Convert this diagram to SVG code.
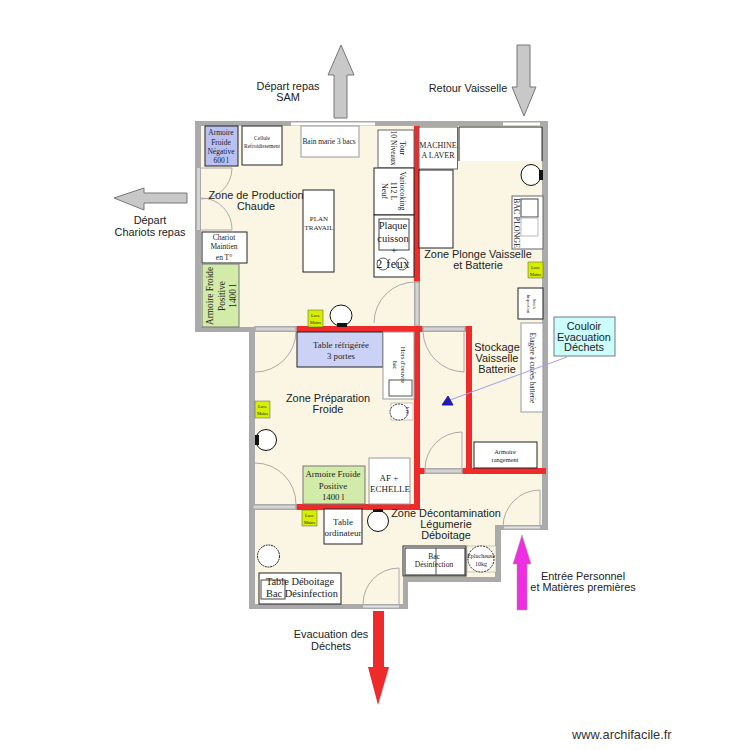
<svg xmlns="http://www.w3.org/2000/svg" width="750" height="750" viewBox="0 0 750 750">
<defs><style>
.sans{font-family:"Liberation Sans",Arial,sans-serif;fill:#222;font-size:10.9px;text-anchor:middle}
.ser{font-family:"Liberation Serif","Times New Roman",serif;fill:#222;text-anchor:middle}
.eq{fill:#fff;stroke:#222;stroke-width:1}
.wall{fill:#aaa}.red{fill:#ee2a2a}.door{fill:#d4d4d4;stroke:#aaa;stroke-width:1.500}
.swing{fill:none;stroke:#aaa;stroke-width:1}
.lav{fill:#d6ee00;stroke:#555;stroke-width:.5}
.arr{fill:#c8c8c8;stroke:#777;stroke-width:1}
.sink{fill:#fff;stroke:#111;stroke-width:1}
</style></defs>
<rect width="750" height="750" fill="#fff"/>
<g id="floor"><path d="M198 124H545V527H498V580H405V606H252V329H198Z" fill="#fbf6e3"/></g>
<g id="walls">
<path class="wall" d="M195 121H548V530H501V582H408V609H249V332H195ZM201 126V327H255V604H403V577H495V525H542V126Z" fill-rule="evenodd"/>
<rect x="291" y="122.500" width="84" height="3" fill="#fff"/>
<rect x="503" y="122.500" width="37" height="3" fill="#fff"/>
<rect x="197" y="168" width="3" height="62" fill="#d4d4d4"/>
<rect class="red" x="414" y="126" width="6" height="156"/>
<rect class="door" x="414.750" y="282" width="4.500" height="44"/>
<rect class="red" x="414" y="326" width="6" height="183"/>
<rect class="red" x="296" y="326" width="124" height="6"/>
<rect class="door" x="255" y="326.750" width="41" height="4.500"/>
<rect class="red" x="420" y="326" width="52" height="6"/>
<rect class="door" x="423" y="326.750" width="42" height="4.500"/>
<rect class="red" x="466" y="326" width="6" height="148"/>
<rect class="red" x="420" y="468" width="126" height="6"/>
<rect class="door" x="425" y="468.750" width="37" height="4.500"/>
<rect class="red" x="296" y="504" width="124" height="6"/>
<rect class="door" x="253" y="504.750" width="43" height="4.500"/>
<rect x="363" y="605.500" width="36" height="2" fill="#e2e2e2"/>
<rect x="504" y="526.500" width="36" height="2" fill="#e2e2e2"/>
</g>
<g id="doors">
<path class="swing" d="M201 168H232A31 31 0 0 1 201 199M201 198A31 31 0 0 1 232 230H201"/>
<path class="swing" d="M415 282A41 41 0 0 0 374 323"/>
<path class="swing" d="M255 372A41 41 0 0 0 296 331"/>
<path class="swing" d="M255 463A41 41 0 0 1 296 504"/>
<path class="swing" d="M423 332A42 42 0 0 0 464 372V332"/>
<path class="swing" d="M462 432A37 37 0 0 0 425 469M462 432V469"/>
<path class="swing" d="M399 568A36 36 0 0 0 363 604M399 568V604"/>
<path class="swing" d="M540 490A37 37 0 0 0 503 526M540 490V526"/>
</g>
<g id="armoire-negative"><rect x="205" y="126" width="33" height="40" fill="#b9c0f2" stroke="#222"/><g class="ser" font-size="7.500"><text x="221" y="135">Armoire</text><text x="221" y="144.500">Froide</text><text x="221" y="154">Négative</text><text x="221" y="163">600 l</text></g></g>
<g id="cellule"><rect class="eq" x="242" y="126" width="40" height="39"/><g class="ser" font-size="5.500"><text x="262" y="140">Cellule</text><text x="262" y="147.500">Refroidissement</text></g></g>
<g id="bain-marie"><rect x="301" y="126" width="58" height="31" fill="#fff" stroke="#999"/><text class="ser" x="329" y="144" font-size="7.400">Bain marie 3 bacs</text></g>
<g id="tour"><rect x="378" y="130" width="36" height="38" fill="#fff" stroke="#666"/><g class="ser" font-size="7.500" transform="translate(398,148) rotate(90)"><text y="-2">Tour</text><text y="7">10 Niveaux</text></g></g>
<g id="vario"><rect class="eq" x="374" y="168" width="40" height="47"/><g class="ser" font-size="8" transform="translate(391,191) rotate(90)"><text y="-9">Variocoking</text><text y="0">112 L</text><text y="9">Neuf</text></g></g>
<g id="plaque"><rect class="eq" x="374" y="215" width="40" height="62"/><rect x="379" y="219" width="30" height="31" fill="#fff" stroke="#444"/><g class="ser" font-size="10.500"><text x="393" y="229">Plaque</text><text x="393" y="242">cuisson</text><text x="394" y="254">+</text><text x="393" y="268" font-size="12" letter-spacing=".5">2 feux</text></g><circle cx="383" cy="264" r="6" fill="none" stroke="#333" stroke-width=".8"/><circle cx="402" cy="264" r="6" fill="none" stroke="#333" stroke-width=".8"/></g>
<g id="plan-travail"><rect class="eq" x="303" y="190" width="31" height="82"/><g class="ser" font-size="7"><text x="319" y="221">PLAN</text><text x="319" y="230">TRAVAIL</text></g></g>
<g id="chariot"><rect class="eq" x="202" y="232" width="45" height="31"/><g class="ser" font-size="7.500"><text x="224" y="240">Chariot</text><text x="224" y="249">Maintien</text><text x="224" y="260">en T°</text></g></g>
<g id="armoire-positive-1"><rect x="202" y="264" width="37" height="63" fill="#d2eba8" stroke="#777"/><g class="ser" font-size="9.300" transform="translate(222,296) rotate(-90)"><text y="-9">Armoire Froide</text><text y="3">Positive</text><text y="14">1400 l</text></g></g>
<g id="lave-mains-1"><rect class="lav" x="308" y="310" width="15" height="17"/><g class="ser" font-size="4.500"><text x="315.500" y="317">Lave</text><text x="315.500" y="324">Mains</text></g></g>
<g id="poubelle-1"><ellipse cx="341" cy="315.500" rx="11" ry="10.500" class="sink"/><rect x="337" y="323" width="10" height="4" fill="#111"/></g>
<g id="machine"><rect x="419" y="127" width="38.500" height="42" fill="#fff" stroke="#666"/><g class="ser" font-size="8"><text x="438" y="148">MACHINE</text><text x="438" y="158">A LAVER</text></g></g>
<g id="table-sale"><path class="eq" d="M459 161V127H542V161" /></g>
<rect id="table-plonge" class="eq" x="419" y="170" width="34" height="78"/>
<g id="poubelle-2"><ellipse cx="531" cy="175" rx="10" ry="10.500" class="sink"/><rect x="539" y="170" width="4" height="10" fill="#111"/></g>
<g id="bac-plonge"><rect x="512" y="196" width="31" height="53" fill="#fff" stroke="#666"/><rect x="521" y="199" width="17" height="18" fill="#fff" stroke="#444"/><rect x="521" y="218" width="17" height="18" fill="#fff" stroke="#bbb"/><text class="ser" font-size="8" transform="translate(514,223) rotate(90)">BAC PLONGE</text></g>
<g id="lave-mains-2"><rect class="lav" x="528" y="262" width="15" height="16"/><g class="ser" font-size="4.500"><text x="535.500" y="269">Lave</text><text x="535.500" y="276">Mains</text></g></g>
<g id="stock-1"><rect class="eq" x="518" y="288" width="25" height="31"/><g class="ser" font-size="4.500" transform="translate(530,304) rotate(90)"><text y="-3">Stock</text><text y="3">Inspection</text></g></g>
<g id="etagere"><rect x="521" y="323" width="22" height="89" fill="#fff" stroke="#999"/><text class="ser" font-size="7.200" transform="translate(530,368) rotate(90)">Etagère à curées batterie</text></g>
<g id="armoire-rangement"><rect class="eq" x="474" y="442" width="63" height="26"/><g class="ser" font-size="6.400"><text x="505" y="454">Armoire</text><text x="505" y="462">rangement</text></g></g>
<g id="table-refrigeree"><rect x="297" y="332" width="86" height="35" fill="#ccd2f5" stroke="#222"/><g class="ser" font-size="8.800"><text x="341" y="348">Table réfrigérée</text><text x="341" y="359">3 portes</text></g></g>
<g id="hotte"><rect x="383" y="332" width="31" height="67" fill="#fff" stroke="#999"/><rect x="389" y="380" width="23" height="16" fill="#fff" stroke="#555"/><g class="ser" font-size="6.500" transform="translate(399,365) rotate(90)"><text y="-2">Hors d'oeuvre</text><text y="6">bac</text></g></g>
<g id="lave-bottes"><rect x="391" y="403" width="22" height="17" fill="#fff" stroke="#888" stroke-width=".5"/><ellipse cx="399" cy="412" rx="9" ry="8" fill="#fff" stroke="#333" stroke-dasharray="2 1"/><text class="ser" font-size="4.500" transform="translate(406,411) rotate(90)">Lave</text></g>
<g id="lave-mains-3"><rect class="lav" x="255" y="401" width="15" height="17"/><g class="ser" font-size="4.500"><text x="262.500" y="408">Lave</text><text x="262.500" y="415">Mains</text></g></g>
<g id="poubelle-3"><circle cx="266" cy="440" r="10.500" class="sink"/><rect x="255" y="435" width="4" height="10" fill="#111"/></g>
<g id="armoire-positive-2"><rect x="303" y="466" width="62" height="38" fill="#d2eba8" stroke="#777"/><g class="ser" font-size="8.800"><text x="333" y="477">Armoire Froide</text><text x="333" y="488.500">Positive</text><text x="333" y="500">1400 l</text></g></g>
<g id="af-echelle"><rect x="369" y="458" width="41" height="46" fill="#fff" stroke="#999"/><g class="ser" font-size="9"><text x="389" y="481">AF +</text><text x="390" y="492">ECHELLE</text></g></g>
<g id="lave-mains-4"><rect class="lav" x="302" y="510" width="15" height="16"/><g class="ser" font-size="4.500"><text x="309.500" y="517">Lave</text><text x="309.500" y="524">Mains</text></g></g>
<g id="table-ordinateur"><rect class="eq" x="324" y="509" width="38" height="35"/><g class="ser" font-size="9"><text x="343" y="525">Table</text><text x="343" y="536">ordinateur</text></g></g>
<g id="poubelle-4"><circle cx="378" cy="521" r="10.500" class="sink"/><rect x="373" y="509" width="10" height="3" fill="#111"/></g>
<circle id="poubelle-5" cx="268.500" cy="556" r="11" fill="#fff" stroke="#222" stroke-dasharray="2 .7"/>
<g id="table-deboitage"><rect class="eq" x="259" y="573" width="82" height="31"/><rect x="261" y="580" width="24" height="19" fill="none" stroke="#444"/><g class="ser" font-size="10.400"><text x="300" y="585">Table Déboitage</text><text x="302" y="597">Bac Désinfection</text></g></g>
<g id="bac-desinfection"><rect class="eq" x="403" y="546" width="63" height="30"/><rect x="405" y="548" width="60" height="27" fill="#fff" stroke="#222"/><line x1="436" y1="548" x2="436" y2="575" stroke="#555"/><g class="ser" font-size="7.500"><text x="434" y="559">Bac</text><text x="434" y="567">Désinfection</text></g></g>
<g id="eplucheuse"><rect x="467" y="546" width="29" height="26" fill="#fbf6e3" stroke="#999" stroke-width=".5"/><circle cx="481" cy="559" r="13" fill="#fff" stroke="#333" stroke-dasharray="2 1"/><g class="ser" font-size="6"><text x="481" y="558">Eplucheuse</text><text x="481" y="566">10kg</text></g></g>
<g id="arrows">
<path class="arr" d="M347 118V75H354L341 45L328 75H334V118Z"/>
<path class="arr" d="M517 45H530V87H536L524 116L512 87H517Z"/>
<path class="arr" d="M187 193H144V188L114 198L144 210V203H187Z"/>
<path d="M527 610V564H531L522 535L513 564H517V610Z" fill="#ee2ee0" stroke="#999" stroke-width=".5"/>
<path d="M373 611H384V667H389L378 705L368 667H373Z" fill="#ee2a2a"/>
</g>
<g id="callout">
<line x1="567" y1="357" x2="450" y2="400" stroke="#a49de8" stroke-width="1"/>
<path d="M448 396L442 405H453Z" fill="#1d1db5" stroke="#1d1db5"/>
<rect x="554" y="317" width="61" height="39" fill="#ccfdfd" stroke="#778"/>
<g class="sans"><text x="584" y="330">Couloir</text><text x="584" y="340.500">Evacuation</text><text x="584" y="351">Déchets</text></g>
</g>
<g id="labels" class="sans">
<text x="256" y="199">Zone de Production</text><text x="256" y="210">Chaude</text>
<text x="478" y="258">Zone Plonge Vaisselle</text><text x="478" y="269">et Batterie</text>
<text x="497" y="351">Stockage</text><text x="497" y="362">Vaisselle</text><text x="497" y="372.500">Batterie</text>
<text x="328" y="402">Zone Préparation</text><text x="328" y="413">Froide</text>
<text x="446" y="517">Zone Décontamination</text><text x="446" y="528">Légumerie</text><text x="446" y="539">Déboitage</text>
<text x="288" y="90">Départ repas</text><text x="288" y="101">SAM</text>
<text x="468" y="92">Retour Vaisselle</text>
<text x="150" y="224">Départ</text><text x="150" y="236">Chariots repas</text>
<text x="583" y="580">Entrée Personnel</text><text x="583" y="591">et Matières premières</text>
<text x="331" y="638">Evacuation des</text><text x="331" y="650">Déchets</text>
</g>
<text x="572" y="739" font-family="'Liberation Sans',Arial,sans-serif" font-size="12.800" fill="#333">www.archifacile.fr</text>
</svg>
